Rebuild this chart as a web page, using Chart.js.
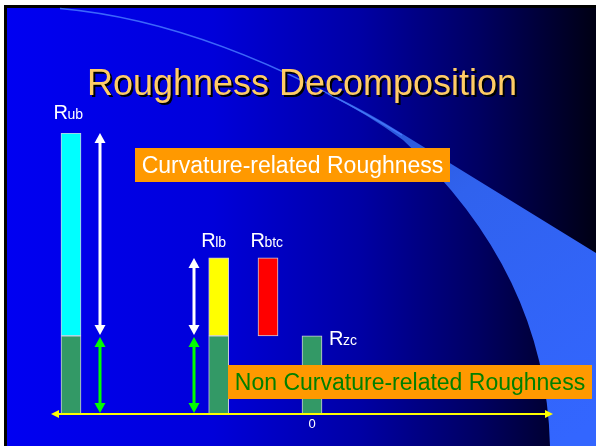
<!DOCTYPE html>
<html>
<head>
<meta charset="utf-8">
<script src="https://cdn.jsdelivr.net/npm/chart.js@4.4.0/dist/chart.umd.min.js"></script>
<style>
  html, body { margin: 0; padding: 0; background: #fff; }
</style>
</head>
<body>
<canvas id="chart" width="596" height="446"></canvas>
<script>
// bar data (x in axis units, 0 = Rzc tick)
const categories = ['Rub', 'Rlb', 'Rbtc', 'Rzc'];
const xValues = [-24.1, -9.33, -4.4, 0];
const nonCurvature = [1, 1, null, 1];
const curvatureLow = [1, 1, 1, null];
const curvatureHigh = [3.6, 2, 2, null];
const curvatureColors = ['#00FFFF', '#FFFF00', '#FF0000', null];

// double arrows between the bars
const arrowX = [-21.2, -11.8];
const arrowCurvature = [[1, 3.6], [1, 2]];
const arrowNonCurvature = [[0, 1], [0, 1]];

const titleText = 'Roughness Decomposition';
const curvatureText = 'Curvature-related Roughness';
const nonCurvatureText = 'Non Curvature-related Roughness';

const FONT = '"Liberation Sans", Arial, sans-serif';

const nonCurvData = [];
const curvData = [];
const curvColors = [];
categories.forEach((c, i) => {
  if (nonCurvature[i] != null) nonCurvData.push({ x: xValues[i], y: [0, nonCurvature[i]], name: c });
  if (curvatureHigh[i] != null) {
    curvData.push({ x: xValues[i], y: [curvatureLow[i], curvatureHigh[i]], name: c });
    curvColors.push(curvatureColors[i]);
  }
});

function drawDoubleArrow(ctx, x, yTop, yBot, color) {
  const head = 10, half = 5.5;
  ctx.save();
  ctx.strokeStyle = color;
  ctx.fillStyle = color;
  ctx.lineWidth = 3;
  ctx.beginPath();
  ctx.moveTo(x, yTop + head - 1);
  ctx.lineTo(x, yBot - head + 1);
  ctx.stroke();
  ctx.beginPath();
  ctx.moveTo(x, yTop);
  ctx.lineTo(x - half, yTop + head);
  ctx.lineTo(x + half, yTop + head);
  ctx.closePath();
  ctx.fill();
  ctx.beginPath();
  ctx.moveTo(x, yBot);
  ctx.lineTo(x - half, yBot - head);
  ctx.lineTo(x + half, yBot - head);
  ctx.closePath();
  ctx.fill();
  ctx.restore();
}

function drawBoxText(ctx, text, left, top, right, bottom, color) {
  ctx.save();
  ctx.fillStyle = '#FF9900';
  ctx.fillRect(left, top, right - left, bottom - top);
  ctx.font = '23px ' + FONT;
  ctx.fillStyle = color;
  ctx.textAlign = 'center';
  ctx.textBaseline = 'alphabetic';
  ctx.fillText(text, (left + right) / 2, bottom - 9.5);
  ctx.restore();
}

const slidePlugin = {
  id: 'slide',
  beforeDraw(chart) {
    const ctx = chart.ctx;
    const W = chart.width, H = chart.height;
    ctx.save();
    ctx.fillStyle = '#fff';
    ctx.fillRect(0, 0, W, H);
    ctx.fillStyle = '#000';
    ctx.fillRect(4, 5, W - 4, H - 5);
    const g = ctx.createLinearGradient(7, 0, W, 0);
    g.addColorStop(0, '#0000F2');
    g.addColorStop(0.35, '#0000DA');
    g.addColorStop(0.6, '#0000A4');
    g.addColorStop(0.8, '#000062');
    g.addColorStop(1, '#000014');
    ctx.fillStyle = g;
    ctx.fillRect(7, 8, W - 7, H - 8);

    // swoosh band
    const sg = ctx.createLinearGradient(340, 100, 560, 446);
    sg.addColorStop(0, '#2A56D0');
    sg.addColorStop(0.35, '#3062EE');
    sg.addColorStop(1, '#3366FF');
    ctx.fillStyle = sg;
    ctx.beginPath();
    ctx.moveTo(328, 93);
    ctx.quadraticCurveTo(368, 112, 401, 133);
    ctx.lineTo(W, 253);
    ctx.lineTo(W, H);
    ctx.lineTo(550, H);
    ctx.quadraticCurveTo(546, 272, 403, 140);
    ctx.quadraticCurveTo(366, 113, 328, 94.5);
    ctx.closePath();
    ctx.fill();
    ctx.strokeStyle = 'rgba(70,120,255,0.85)';
    ctx.lineWidth = 1.5;
    ctx.beginPath();
    ctx.moveTo(60, 8.5);
    ctx.quadraticCurveTo(215, 22, 402, 135);
    ctx.stroke();
    ctx.restore();
  },
  afterDatasetsDraw(chart) {
    const ctx = chart.ctx;
    const xs = chart.scales.x, ys = chart.scales.y;
    const area = chart.chartArea;

    // arrows
    arrowX.forEach((v, i) => {
      const px = xs.getPixelForValue(v);
      const c = arrowCurvature[i], n = arrowNonCurvature[i];
      drawDoubleArrow(ctx, px, ys.getPixelForValue(c[1]), ys.getPixelForValue(c[0]) - 1, '#FFFFFF');
      drawDoubleArrow(ctx, px, ys.getPixelForValue(n[1]) + 1, ys.getPixelForValue(n[0]) - 1, '#00FF00');
    });

    // yellow axis with arrowheads
    const y0 = ys.getPixelForValue(0);
    ctx.save();
    ctx.strokeStyle = '#FFFF00';
    ctx.fillStyle = '#FFFF00';
    ctx.lineWidth = 2;
    ctx.beginPath();
    ctx.moveTo(area.left + 5, y0);
    ctx.lineTo(area.right - 5, y0);
    ctx.stroke();
    ctx.beginPath();
    ctx.moveTo(area.left - 1, y0);
    ctx.lineTo(area.left + 7, y0 - 4);
    ctx.lineTo(area.left + 7, y0 + 4);
    ctx.closePath();
    ctx.fill();
    ctx.beginPath();
    ctx.moveTo(area.right, y0);
    ctx.lineTo(area.right - 8, y0 - 4);
    ctx.lineTo(area.right - 8, y0 + 4);
    ctx.closePath();
    ctx.fill();
    ctx.restore();

    // bar labels R + subscript
    ctx.save();
    ctx.fillStyle = '#FFFFFF';
    ctx.textBaseline = 'alphabetic';
    ctx.textAlign = 'left';
    categories.forEach((c, i) => {
      const cx = xs.getPixelForValue(xValues[i]);
      const top = ys.getPixelForValue(curvatureHigh[i] != null ? curvatureHigh[i] : nonCurvature[i]);
      let lx, ly;
      if (curvatureHigh[i] != null) {
        lx = cx - 17.5;
        ly = top - (i === 0 ? 14 : 10.5);
      } else {
        lx = cx + 17;
        ly = top + 9;
      }
      ctx.font = '20px ' + FONT;
      ctx.fillText('R', lx, ly);
      const w = ctx.measureText('R').width;
      ctx.font = '14px ' + FONT;
      ctx.fillText(c.slice(1), lx + w - 0.5, ly);
    });
    ctx.restore();

    // text boxes
    drawBoxText(ctx, curvatureText, 135, 148, 450, 182, '#FFFFFF');
    drawBoxText(ctx, nonCurvatureText, 228, 365, 592, 399, '#008000');

    // title with shadow
    ctx.save();
    ctx.font = '36px ' + FONT;
    ctx.textAlign = 'center';
    ctx.textBaseline = 'alphabetic';
    ctx.fillStyle = '#000000';
    ctx.fillText(titleText, 304, 96.5);
    ctx.fillStyle = '#FFCC66';
    ctx.fillText(titleText, 302, 94.5);
    ctx.restore();
  }
};

new Chart(document.getElementById('chart'), {
  type: 'bar',
  data: {
    datasets: [
      {
        label: nonCurvatureText,
        data: nonCurvData,
        backgroundColor: '#339966'
      },
      {
        label: curvatureText,
        data: curvData,
        backgroundColor: curvColors
      }
    ]
  },
  options: {
    responsive: false,
    animation: false,
    layout: { padding: { top: 133, left: 52, right: 43, bottom: 0 } },
    datasets: {
      bar: {
        barThickness: 20,
        grouped: false,
        borderWidth: 1,
        borderColor: 'rgba(225,225,225,0.9)',
        borderSkipped: false
      }
    },
    scales: {
      x: {
        type: 'linear',
        min: -26,
        max: 24.1,
        offset: false,
        grid: { display: false },
        border: { display: false },
        afterBuildTicks: s => { s.ticks = [{ value: 0 }]; },
        afterFit: s => { s.height = 32; },
        ticks: { color: '#FFFFFF', font: { family: FONT, size: 13 }, padding: -5 }
      },
      y: { display: false, min: 0, max: 3.6 }
    },
    plugins: {
      legend: { display: false },
      tooltip: { enabled: false }
    }
  },
  plugins: [slidePlugin]
});
</script>
</body>
</html>
